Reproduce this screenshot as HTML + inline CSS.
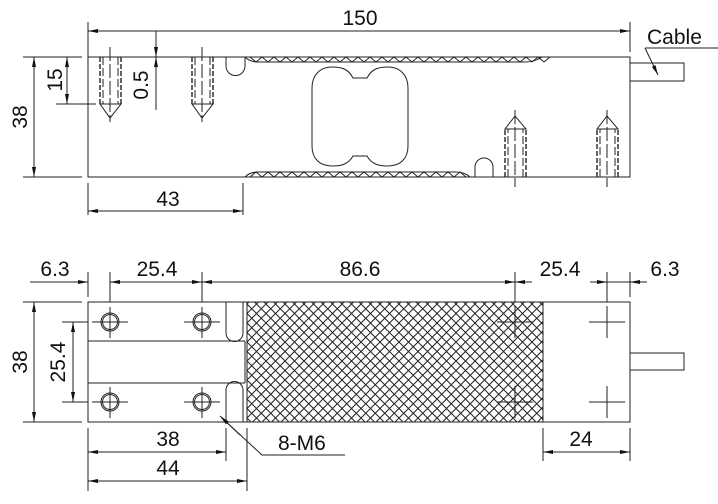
<!DOCTYPE html>
<html><head><meta charset="utf-8"><style>
html,body{margin:0;padding:0;background:#fff}
svg{display:block}
text{font-family:"Liberation Sans",sans-serif;font-size:21px;fill:#111}
</style></head><body>
<svg width="718" height="504" viewBox="0 0 718 504" xmlns="http://www.w3.org/2000/svg">
<defs>
<pattern id="xh" width="9.5" height="9.5" patternUnits="userSpaceOnUse">
<path d="M0,0 L9.5,9.5 M9.5,0 L0,9.5" stroke="#222" stroke-width="1"/>
</pattern>
<marker id="a" viewBox="0 0 10 4" refX="10" refY="2" markerWidth="10" markerHeight="4" orient="auto-start-reverse" markerUnits="userSpaceOnUse">
<path d="M0,0 L10,2 L0,4z" fill="#111"/>
</marker>
</defs>
<g fill="none" stroke="#222" stroke-width="1">
<rect x="88" y="57" width="542" height="120"/>
<rect x="630" y="63" width="54" height="18"/>
<path d="M245,57 L542,57 Q535,62 525,62 L258,62 Q250,62 245,57"/>
<path d="M250,57 l6,5 l6,-5 l6,5 l6,-5 l6,5 l6,-5 l6,5 l6,-5 l6,5 l6,-5 l6,5 l6,-5 l6,5 l6,-5 l6,5 l6,-5 l6,5 l6,-5 l6,5 l6,-5 l6,5 l6,-5 l6,5 l6,-5 l6,5 l6,-5 l6,5 l6,-5 l6,5 l6,-5 l6,5 l6,-5 l6,5 l6,-5 l6,5 l6,-5 l6,5 l6,-5 l6,5 l6,-5 l6,5 l6,-5 l6,5 l6,-5 l6,5 l6,-5 l6,5 l6,-5 l6,5 l6,-5"/>
<path d="M245,177 L470,177 Q465,172 455,172 L258,172 Q250,172 245,177"/>
<path d="M250,177 l6,-5 l6,5 l6,-5 l6,5 l6,-5 l6,5 l6,-5 l6,5 l6,-5 l6,5 l6,-5 l6,5 l6,-5 l6,5 l6,-5 l6,5 l6,-5 l6,5 l6,-5 l6,5 l6,-5 l6,5 l6,-5 l6,5 l6,-5 l6,5 l6,-5 l6,5 l6,-5 l6,5 l6,-5 l6,5 l6,-5 l6,5 l6,-5 l6,5"/>
<path d="M226,57 L226,66 A9.5,9.5 0 0 0 245,66 L245,57"/>
<path d="M475,177 L475,167 A9,9 0 0 1 493,167 L493,177"/>
<path d="M353,78 L367,78 C372,68 380,67 388,67 C400,67 408,75 408,88 L408,146 C408,159 400,166 388,166 C380,166 372,165 367,156 L353,156 C348,165 340,166 332,166 C320,166 312,159 312,146 L312,88 C312,75 320,67 332,67 C340,67 348,68 353,78Z"/>
<g stroke-dasharray="5,2" stroke-width="1.4">
<path d="M100,57 V104 M121,57 V104 M192,57 V104 M213,57 V104"/>
<path d="M505,177 V129 M526,177 V129 M597,177 V129 M618,177 V129"/>
</g>
<path d="M103,57 V104 M118,57 V104 M195,57 V104 M210,57 V104 M508,177 V129 M523,177 V129 M600,177 V129 M615,177 V129" stroke-dasharray="8,3"/>
<path d="M100,104 H121 L110,118 Z M192,104 H213 L202,118 Z"/>
<path d="M505,129 H526 L515,116 Z M597,129 H618 L607,116 Z"/>
<path d="M110,47 V122 M202,47 V122 M515,110 V187 M607,110 V187" stroke-dasharray="14,3"/>
<path d="M88,22 V57 M630,22 V52 M23,57 H82 M23,177 H82 M56,104 H96 M88,183 V215 M243,183 V215"/>
<line x1="88" y1="31" x2="630" y2="31" marker-start="url(#a)" marker-end="url(#a)"/>
<line x1="34" y1="57" x2="34" y2="177" marker-start="url(#a)" marker-end="url(#a)"/>
<line x1="67" y1="57" x2="67" y2="104" marker-start="url(#a)" marker-end="url(#a)"/>
<line x1="156" y1="31" x2="156" y2="57" marker-end="url(#a)"/>
<line x1="156" y1="110" x2="156" y2="57" marker-end="url(#a)"/>
<line x1="88" y1="211" x2="243" y2="211" marker-start="url(#a)" marker-end="url(#a)"/>
<path d="M645,48 H718"/>
<line x1="645" y1="48" x2="658" y2="75" marker-end="url(#a)"/>

<rect x="247" y="302" width="296" height="120" fill="url(#xh)"/>
<rect x="88" y="302" width="542" height="120"/>
<rect x="630" y="353" width="54" height="17"/>
<path d="M88,341 H245 M88,383 H245 M245,341 V383 M247,302 V422 M543,302 V422"/>
<path d="M226,302 L226,333 A8.5,8.5 0 0 0 243,333 L243,302"/>
<path d="M226,422 L226,390 A8.5,8.5 0 0 1 243,390 L243,422"/>
<g>
<circle cx="110" cy="322" r="9"/><circle cx="110" cy="322" r="7.5"/>
<circle cx="202" cy="322" r="9"/><circle cx="202" cy="322" r="7.5"/>
<circle cx="110" cy="402" r="9"/><circle cx="110" cy="402" r="7.5"/>
<circle cx="202" cy="402" r="9"/><circle cx="202" cy="402" r="7.5"/>
<path d="M92,322 H128 M110,307 V338 M184,322 H220 M202,307 V338 M92,402 H128 M110,387 V418 M184,402 H220 M202,387 V418"/>
<path d="M497,322 H533 M515,306 V338 M589,322 H625 M607,306 V338 M497,402 H533 M515,386 V418 M589,402 H625 M607,386 V418"/>
</g>
<path d="M88,272 V297 M110,272 V302 M202,272 V302 M515,272 V302 M607,272 V302 M630,272 V297"/>
<path d="M30,282 H88 M110,282 H202 M202,282 H515 M607,282 H640"/>
<line x1="70" y1="282" x2="88" y2="282" marker-end="url(#a)"/>
<line x1="128" y1="282" x2="110" y2="282" marker-end="url(#a)"/>
<line x1="185" y1="282" x2="202" y2="282" marker-end="url(#a)"/>
<line x1="220" y1="282" x2="202" y2="282" marker-end="url(#a)"/>
<line x1="497" y1="282" x2="515" y2="282" marker-end="url(#a)"/>
<line x1="532" y1="282" x2="515" y2="282" marker-end="url(#a)"/>
<line x1="590" y1="282" x2="607" y2="282" marker-end="url(#a)"/>
<line x1="647" y1="282" x2="630" y2="282" marker-end="url(#a)"/>
<path d="M23,302 H82 M23,422 H82 M62,322 H88 M62,402 H88"/>
<line x1="34" y1="302" x2="34" y2="422" marker-start="url(#a)" marker-end="url(#a)"/>
<line x1="73" y1="322" x2="73" y2="402" marker-start="url(#a)" marker-end="url(#a)"/>
<path d="M88,428 V491 M226,428 V461 M247,428 V491 M543,428 V461 M630,428 V461"/>
<line x1="88" y1="452" x2="226" y2="452" marker-start="url(#a)" marker-end="url(#a)"/>
<line x1="88" y1="481" x2="247" y2="481" marker-start="url(#a)" marker-end="url(#a)"/>
<line x1="543" y1="452" x2="630" y2="452" marker-start="url(#a)" marker-end="url(#a)"/>
<path d="M345,455 H262 L222,418"/>
<line x1="240" y1="435" x2="220" y2="416" marker-end="url(#a)"/>
</g>
<text x="360" y="25" text-anchor="middle">150</text>
<text x="647" y="44" font-size="19">Cable</text>
<text x="168" y="206" text-anchor="middle">43</text>
<text transform="translate(27,117) rotate(-90)" text-anchor="middle">38</text>
<text transform="translate(62,80) rotate(-90)" text-anchor="middle">15</text>
<text transform="translate(148,85) rotate(-90)" text-anchor="middle">0.5</text>
<text x="55" y="276" text-anchor="middle">6.3</text>
<text x="157" y="276" text-anchor="middle">25.4</text>
<text x="360" y="276" text-anchor="middle">86.6</text>
<text x="560" y="276" text-anchor="middle">25.4</text>
<text x="665" y="276" text-anchor="middle">6.3</text>
<text transform="translate(27,362) rotate(-90)" text-anchor="middle">38</text>
<text transform="translate(65,362) rotate(-90)" text-anchor="middle">25.4</text>
<text x="168" y="446" text-anchor="middle">38</text>
<text x="168" y="475" text-anchor="middle">44</text>
<text x="581" y="446" text-anchor="middle">24</text>
<text x="278" y="450">8-M6</text>
</svg>
</body></html>
